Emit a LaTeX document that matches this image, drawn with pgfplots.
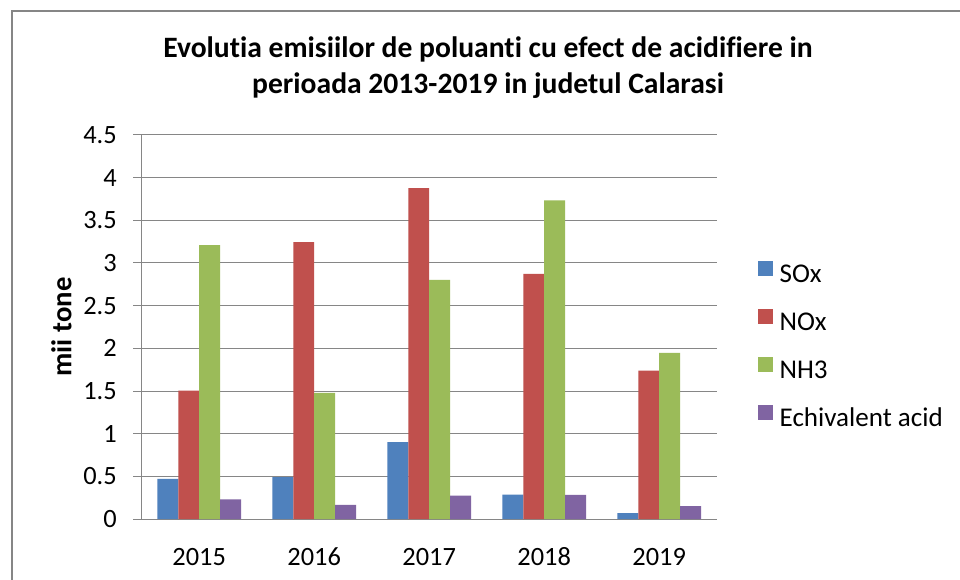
\documentclass[border=0pt]{standalone}
\usepackage{pgfplots}
\pgfplotsset{compat=1.18}
\usepackage{fontspec}
\setmainfont{Carlito}[Ligatures=NoCommon]
\definecolor{cS}{HTML}{4F81BD}
\definecolor{cN}{HTML}{C0504D}
\definecolor{cH}{HTML}{9BBB59}
\definecolor{cE}{HTML}{8064A2}
\definecolor{gridc}{HTML}{868686}
\begin{document}
\begin{tikzpicture}
\def\u{0.75pt}
\useasboundingbox (0,0) rectangle (960*\u,579*\u);
\fill[white] (0,0) rectangle (960*\u,579*\u);
\draw[gridc, line width=0.9pt] (12*\u,-5*\u) -- (12*\u,568*\u) -- (965*\u,568*\u);
\begin{axis}[
  at={(141.7*\u,60*\u)}, anchor=south west,
  scale only axis, width=431.25pt, height=288pt,
  xmin=-0.5, xmax=4.5, ymin=0, ymax=4.5,
  enlarge x limits=false,
  ybar=0pt, bar width=15.7pt,
  axis x line*=bottom, axis y line*=left,
  axis line style={gridc, line width=0.75pt, -},
  xtick={0,1,2,3,4}, xticklabels={2015,2016,2017,2018,2019},
  ytick={0,0.5,1,1.5,2,2.5,3,3.5,4,4.5},
  ymajorgrids, grid style={gridc, line width=0.75pt},
  tick align=outside, major tick length=6.5pt,
  ytick style={gridc, line width=0.75pt},
  xtick style={draw=none},
  /pgf/number format/assume math mode=true,
  tick label style={font=\fontsize{19.8}{21}\selectfont},
  yticklabel style={anchor=east, inner sep=0pt, xshift=-12pt},
  xticklabel style={anchor=base, inner sep=0pt, yshift=-28.5pt},
  title={Evolutia emisiilor de poluanti cu efect de acidifiere in\\perioada 2013-2019 in judetul Calarasi},
  title style={at={(axis description cs:0.6023,1.155)}, anchor=center, align=center, font=\bfseries\fontsize{22.2}{27}\selectfont},
  ylabel={mii tone},
  ylabel style={at={(axis description cs:-0.1395,0.5)}, anchor=center, font=\bfseries\fontsize{21.5}{24}\selectfont},
  legend style={draw=none, fill=none, inner sep=0pt, outer sep=0pt,
    at={(axis description cs:1.0718,0.4484)}, anchor=west,
    font=\fontsize{20.3}{22}\selectfont, row sep=15.75pt,
    nodes={inner sep=0pt, text height=14pt, text depth=4pt},
    /tikz/every odd column/.style={column sep=5pt}},
  legend cell align=left,
  legend image code/.code={\fill[#1] (0pt,0pt) rectangle (11.25pt,11.25pt);},
]
\addplot[fill=cS, draw=none] coordinates {(0,0.47) (1,0.49) (2,0.90) (3,0.285) (4,0.068)};
\addplot[fill=cN, draw=none] coordinates {(0,1.505) (1,3.245) (2,3.878) (3,2.873) (4,1.74)};
\addplot[fill=cH, draw=none] coordinates {(0,3.21) (1,1.478) (2,2.803) (3,3.733) (4,1.947)};
\addplot[fill=cE, draw=none] coordinates {(0,0.23) (1,0.165) (2,0.275) (3,0.282) (4,0.15)};
\legend{SOx,NOx,NH3,Echivalent acid}
\end{axis}
\end{tikzpicture}
\end{document}
